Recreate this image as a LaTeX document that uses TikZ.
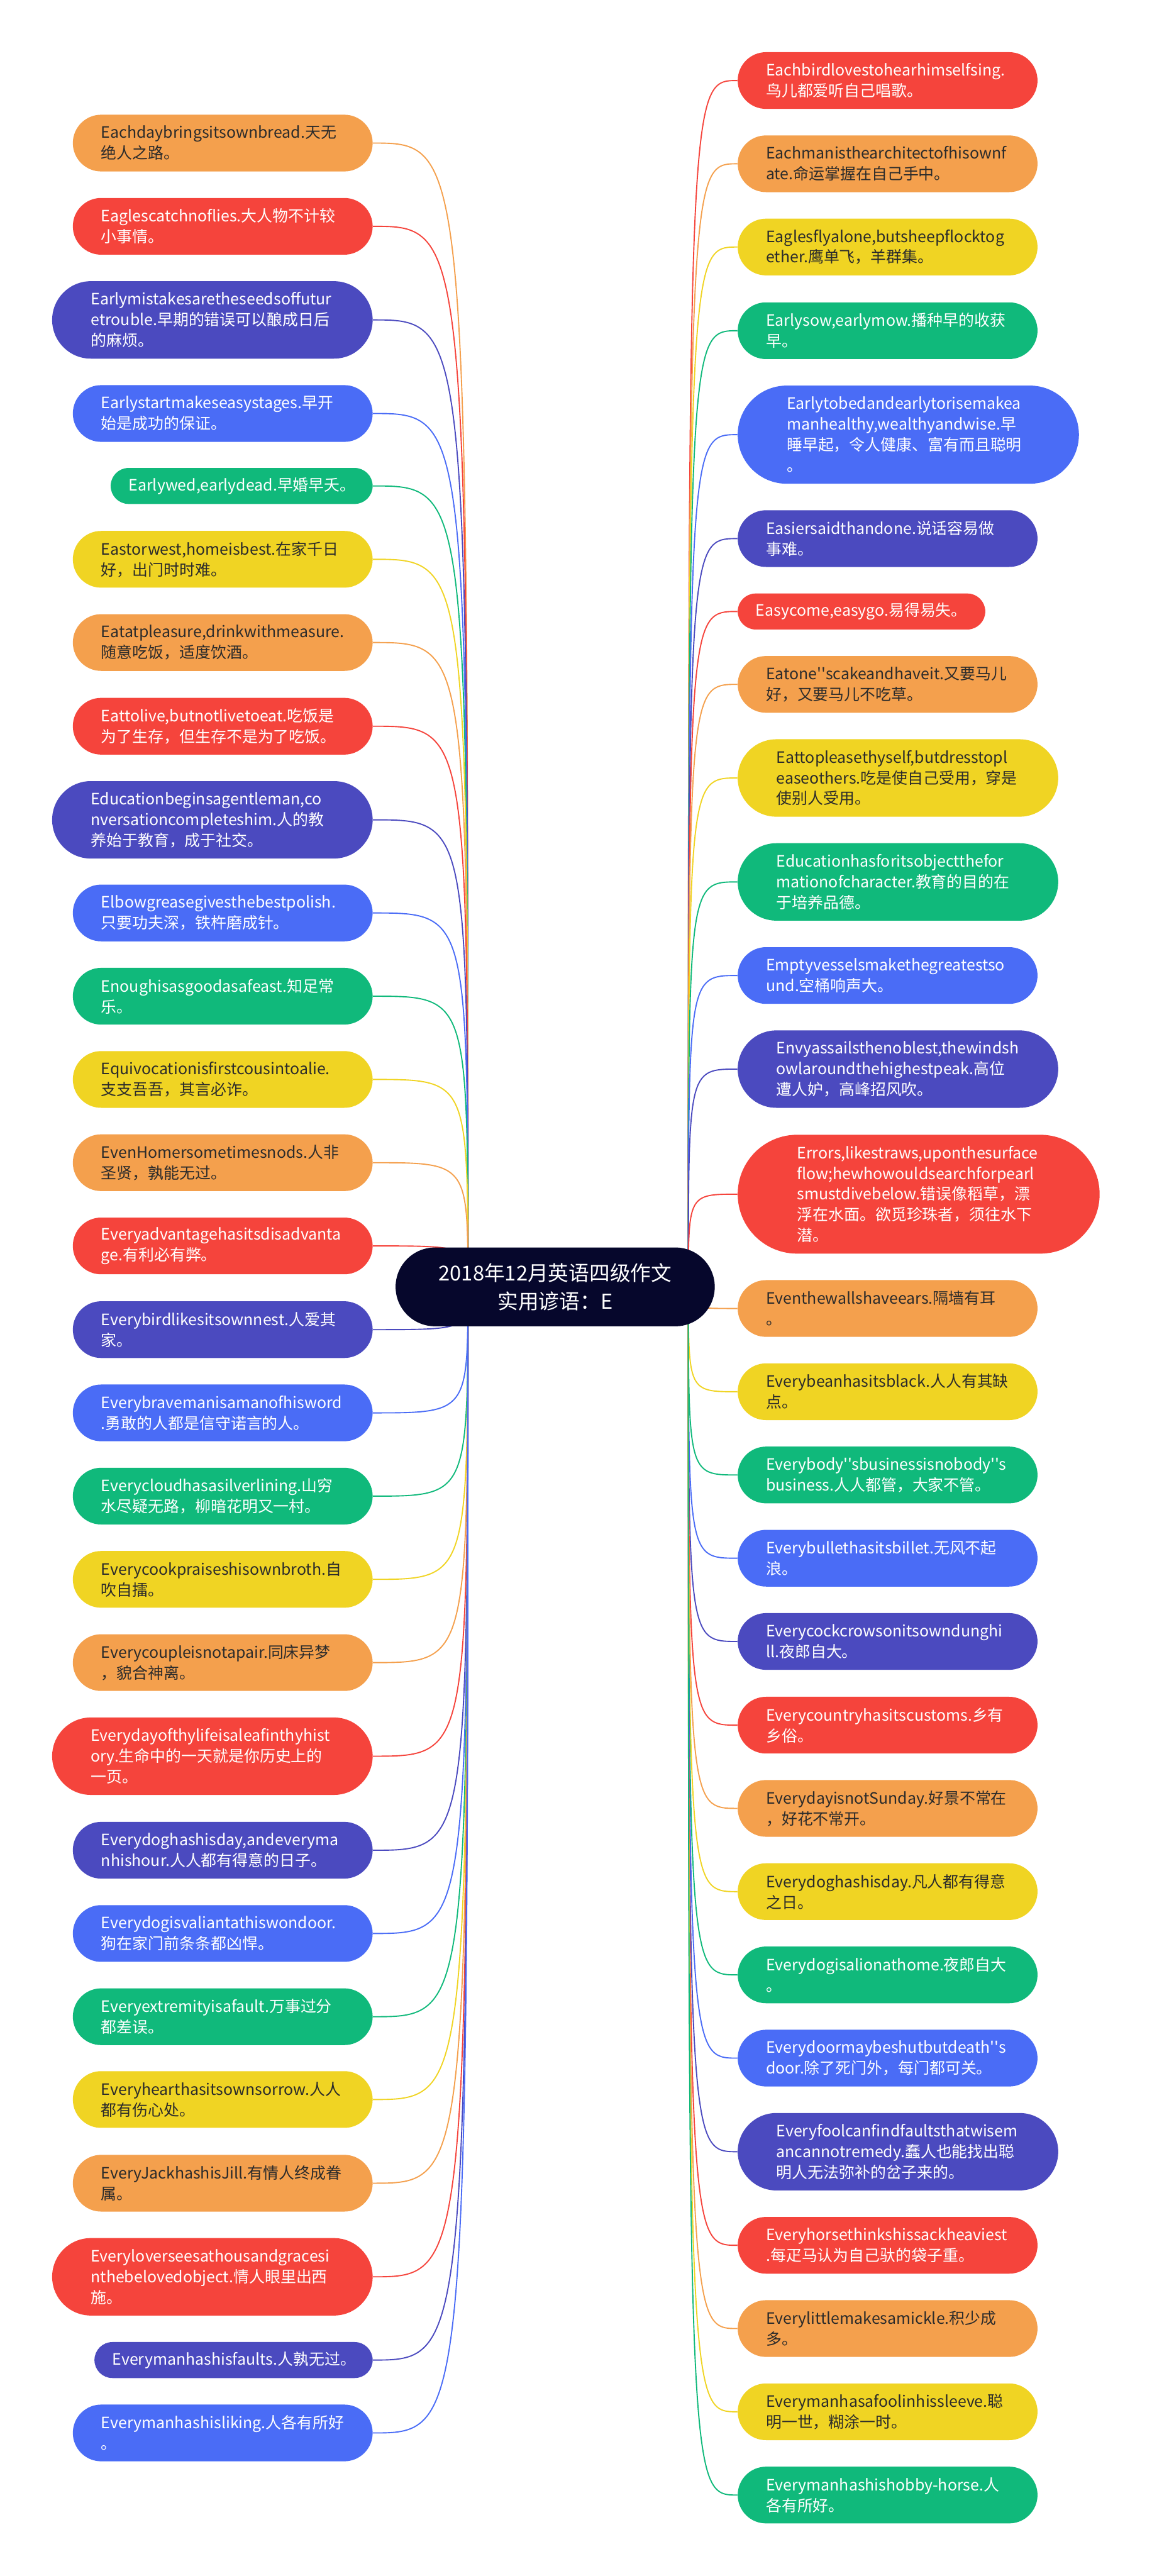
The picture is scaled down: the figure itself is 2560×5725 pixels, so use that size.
\documentclass[tikz,border=0pt]{standalone}
\usepackage{fontspec}
\setmainfont{Noto Sans CJK SC}[Ligatures=TeXOff]
\usetikzlibrary{shapes.misc,backgrounds}

\definecolor{morange}{HTML}{F4A04D}
\definecolor{mred}{HTML}{F5443C}
\definecolor{mindigo}{HTML}{4B4ABF}
\definecolor{mblue}{HTML}{4A6CF6}
\definecolor{mgreen}{HTML}{10B97B}
\definecolor{myellow}{HTML}{F0D423}
\definecolor{mnavy}{HTML}{06072C}
\definecolor{darktext}{HTML}{2B2B2B}

\newcommand\leaffont{\fontsize{9.9pt}{13.09pt}\selectfont}
\newcommand\rootfont{\fontsize{13pt}{18pt}\selectfont}

\tikzset{
  pill/.style={rounded rectangle, inner xsep=0pt, inner ysep=0pt,
    text width=5.4cm, align=left, font=\leaffont},
  h1/.style={minimum height=0.80cm, minimum width=6.20cm},
  h2/.style={minimum height=1.26cm, minimum width=6.66cm},
  h3/.style={minimum height=1.72cm, minimum width=7.12cm},
  h4/.style={minimum height=2.18cm, minimum width=7.58cm},
  h5/.style={minimum height=2.64cm, minimum width=8.04cm},
  orangebox/.style={pill, fill=morange, text=darktext},
  redbox/.style={pill, fill=mred, text=white},
  indigobox/.style={pill, fill=mindigo, text=white},
  bluebox/.style={pill, fill=mblue, text=white},
  greenbox/.style={pill, fill=mgreen, text=white},
  yellowbox/.style={pill, fill=myellow, text=darktext},
  rootbox/.style={rounded rectangle, inner xsep=0pt, inner ysep=0pt,
    minimum height=1.75cm, minimum width=7.09cm, text width=5.3cm, align=center,
    fill=mnavy, text=white, font=\rootfont},
  link/.style={line width=0.75pt}
}

\begin{document}
\begin{tikzpicture}[x=0.01cm, y=-0.01cm]
    \useasboundingbox (0,0) rectangle (2560,5725);

    % central topic
    \node[rootbox] (root) at (1234,2860) {2018年12月英语四级作文\\实用谚语：E};
    \coordinate (cl) at (1040,2860);
    \coordinate (cr) at (1530,2860);

    % left column
    \begin{scope}[every node/.append style={anchor=east}]
        \node[orangebox, h2] (l1) at (829,318) {Eachdaybringsitsownbread.天无\\绝人之路。};
        \node[redbox, h2] (l2) at (829,503) {Eaglescatchnoflies.大人物不计较\\小事情。};
        \node[indigobox, h3] (l3) at (829,711) {Earlymistakesaretheseedsoffutur\\etrouble.早期的错误可以酿成日后\\的麻烦。};
        \node[bluebox, h2] (l4) at (829,919) {Earlystartmakeseasystages.早开\\始是成功的保证。};
        \node[greenbox, h1, text width=5.02cm, minimum width=5.82cm] (l5) at (829,1080) {Earlywed,earlydead.早婚早夭。};
        \node[yellowbox, h2] (l6) at (829,1243) {Eastorwest,homeisbest.在家千日\\好，出门时时难。};
        \node[orangebox, h2] (l7) at (829,1428) {Eatatpleasure,drinkwithmeasure.\\随意吃饭，适度饮酒。};
        \node[redbox, h2] (l8) at (829,1614) {Eattolive,butnotlivetoeat.吃饭是\\为了生存，但生存不是为了吃饭。};
        \node[indigobox, h3] (l9) at (829,1822) {Educationbeginsagentleman,co\\nversationcompleteshim.人的教\\养始于教育，成于社交。};
        \node[bluebox, h2] (l10) at (829,2029) {Elbowgreasegivesthebestpolish.\\只要功夫深，铁杵磨成针。};
        \node[greenbox, h2] (l11) at (829,2214) {Enoughisasgoodasafeast.知足常\\乐。};
        \node[yellowbox, h2] (l12) at (829,2399) {Equivocationisfirstcousintoalie.\\支支吾吾，其言必诈。};
        \node[orangebox, h2] (l13) at (829,2584) {EvenHomersometimesnods.人非\\圣贤，孰能无过。};
        \node[redbox, h2] (l14) at (829,2769) {Everyadvantagehasitsdisadvanta\\ge.有利必有弊。};
        \node[indigobox, h2] (l15) at (829,2955) {Everybirdlikesitsownnest.人爱其\\家。};
        \node[bluebox, h2] (l16) at (829,3140) {Everybravemanisamanofhisword\\.勇敢的人都是信守诺言的人。};
        \node[greenbox, h2] (l17) at (829,3325) {Everycloudhasasilverlining.山穷\\水尽疑无路，柳暗花明又一村。};
        \node[yellowbox, h2] (l18) at (829,3510) {Everycookpraiseshisownbroth.自\\吹自擂。};
        \node[orangebox, h2] (l19) at (829,3695) {Everycoupleisnotapair.同床异梦\\，貌合神离。};
        \node[redbox, h3] (l20) at (829,3903) {Everydayofthylifeisaleafinthyhist\\ory.生命中的一天就是你历史上的\\一页。};
        \node[indigobox, h2] (l21) at (829,4112) {Everydoghashisday,andeveryma\\nhishour.人人都有得意的日子。};
        \node[bluebox, h2] (l22) at (829,4297) {Everydogisvaliantathiswondoor.\\狗在家门前条条都凶悍。};
        \node[greenbox, h2] (l23) at (829,4482) {Everyextremityisafault.万事过分\\都差误。};
        \node[yellowbox, h2] (l24) at (829,4666) {Everyhearthasitsownsorrow.人人\\都有伤心处。};
        \node[orangebox, h2] (l25) at (829,4852) {EveryJackhashisJill.有情人终成眷\\属。};
        \node[redbox, h3] (l26) at (829,5060) {Everyloverseesathousandgracesi\\nthebelovedobject.情人眼里出西\\施。};
        \node[indigobox, h1, text width=5.38cm, minimum width=6.18cm] (l27) at (829,5245) {Everymanhashisfaults.人孰无过。};
        \node[bluebox, h2] (l28) at (829,5407) {Everymanhashisliking.人各有所好\\。};
    \end{scope}

    % right column
    \begin{scope}[every node/.append style={anchor=west}]
        \node[redbox, h2] (r1) at (1639,179) {Eachbirdlovestohearhimselfsing.\\鸟儿都爱听自己唱歌。};
        \node[orangebox, h2] (r2) at (1639,364) {Eachmanisthearchitectofhisownf\\ate.命运掌握在自己手中。};
        \node[yellowbox, h2] (r3) at (1639,549) {Eaglesflyalone,butsheepflocktog\\ether.鹰单飞，羊群集。};
        \node[greenbox, h2] (r4) at (1639,735) {Earlysow,earlymow.播种早的收获\\早。};
        \node[bluebox, h4] (r5) at (1639,966) {Earlytobedandearlytorisemakea\\manhealthy,wealthyandwise.早\\睡早起，令人健康、富有而且聪明\\。};
        \node[indigobox, h2] (r6) at (1639,1197) {Easiersaidthandone.说话容易做\\事难。};
        \node[redbox, h1, text width=4.70cm, minimum width=5.50cm] (r7) at (1639,1359) {Easycome,easygo.易得易失。};
        \node[orangebox, h2] (r8) at (1639,1521) {Eatone''scakeandhaveit.又要马儿\\好，又要马儿不吃草。};
        \node[yellowbox, h3] (r9) at (1639,1729) {Eattopleasethyself,butdresstopl\\easeothers.吃是使自己受用，穿是\\使别人受用。};
        \node[greenbox, h3] (r10) at (1639,1960) {Educationhasforitsobjectthefor\\mationofcharacter.教育的目的在\\于培养品德。};
        \node[bluebox, h2] (r11) at (1639,2168) {Emptyvesselsmakethegreatestso\\und.空桶响声大。};
        \node[indigobox, h3] (r12) at (1639,2376) {Envyassailsthenoblest,thewindsh\\owlaroundthehighestpeak.高位\\遭人妒，高峰招风吹。};
        \node[redbox, h5] (r13) at (1639,2654) {Errors,likestraws,uponthesurface\\flow;hewhowouldsearchforpearl\\smustdivebelow.错误像稻草，漂\\浮在水面。欲觅珍珠者，须往水下\\潜。};
        \node[orangebox, h2] (r14) at (1639,2908) {Eventhewallshaveears.隔墙有耳\\。};
        \node[yellowbox, h2] (r15) at (1639,3093) {Everybeanhasitsblack.人人有其缺\\点。};
        \node[greenbox, h2] (r16) at (1639,3278) {Everybody''sbusinessisnobody''s\\business.人人都管，大家不管。};
        \node[bluebox, h2] (r17) at (1639,3463) {Everybullethasitsbillet.无风不起\\浪。};
        \node[indigobox, h2] (r18) at (1639,3648) {Everycockcrowsonitsowndunghi\\ll.夜郎自大。};
        \node[redbox, h2] (r19) at (1639,3834) {Everycountryhasitscustoms.乡有\\乡俗。};
        \node[orangebox, h2] (r20) at (1639,4019) {EverydayisnotSunday.好景不常在\\，好花不常开。};
        \node[yellowbox, h2] (r21) at (1639,4204) {Everydoghashisday.凡人都有得意\\之日。};
        \node[greenbox, h2] (r22) at (1639,4389) {Everydogisalionathome.夜郎自大\\。};
        \node[bluebox, h2] (r23) at (1639,4574) {Everydoormaybeshutbutdeath''s\\door.除了死门外，每门都可关。};
        \node[indigobox, h3] (r24) at (1639,4782) {Everyfoolcanfindfaultsthatwisem\\ancannotremedy.蠢人也能找出聪\\明人无法弥补的岔子来的。};
        \node[redbox, h2] (r25) at (1639,4990) {Everyhorsethinkshissackheaviest\\.每疋马认为自己驮的袋子重。};
        \node[orangebox, h2] (r26) at (1639,5175) {Everylittlemakesamickle.积少成\\多。};
        \node[yellowbox, h2] (r27) at (1639,5360) {Everymanhasafoolinhissleeve.聪\\明一世，糊涂一时。};
        \node[greenbox, h2] (r28) at (1639,5545) {Everymanhashishobby-horse.人\\各有所好。};
    \end{scope}

    % connectors, behind the boxes
    \begin{scope}[on background layer]
        \foreach \n/\c in {1/morange,2/mred,3/mindigo,4/mblue,5/mgreen,6/myellow,
                           7/morange,8/mred,9/mindigo,10/mblue,11/mgreen,12/myellow,
                           13/morange,14/mred,15/mindigo,16/mblue,17/mgreen,18/myellow,
                           19/morange,20/mred,21/mindigo,22/mblue,23/mgreen,24/myellow,
                           25/morange,26/mred,27/mindigo,28/mblue}
            \draw[link, \c] (l\n.east) .. controls (l\n.east -| cl) and (l\n.east -| cl) .. (cl);
        \foreach \n/\c in {1/mred,2/morange,3/myellow,4/mgreen,5/mblue,6/mindigo,
                           7/mred,8/morange,9/myellow,10/mgreen,11/mblue,12/mindigo,
                           13/mred,14/morange,15/myellow,16/mgreen,17/mblue,18/mindigo,
                           19/mred,20/morange,21/myellow,22/mgreen,23/mblue,24/mindigo,
                           25/mred,26/morange,27/myellow,28/mgreen}
            \draw[link, \c] (r\n.west) .. controls (r\n.west -| cr) and (r\n.west -| cr) .. (cr);
    \end{scope}
\end{tikzpicture}
\end{document}
